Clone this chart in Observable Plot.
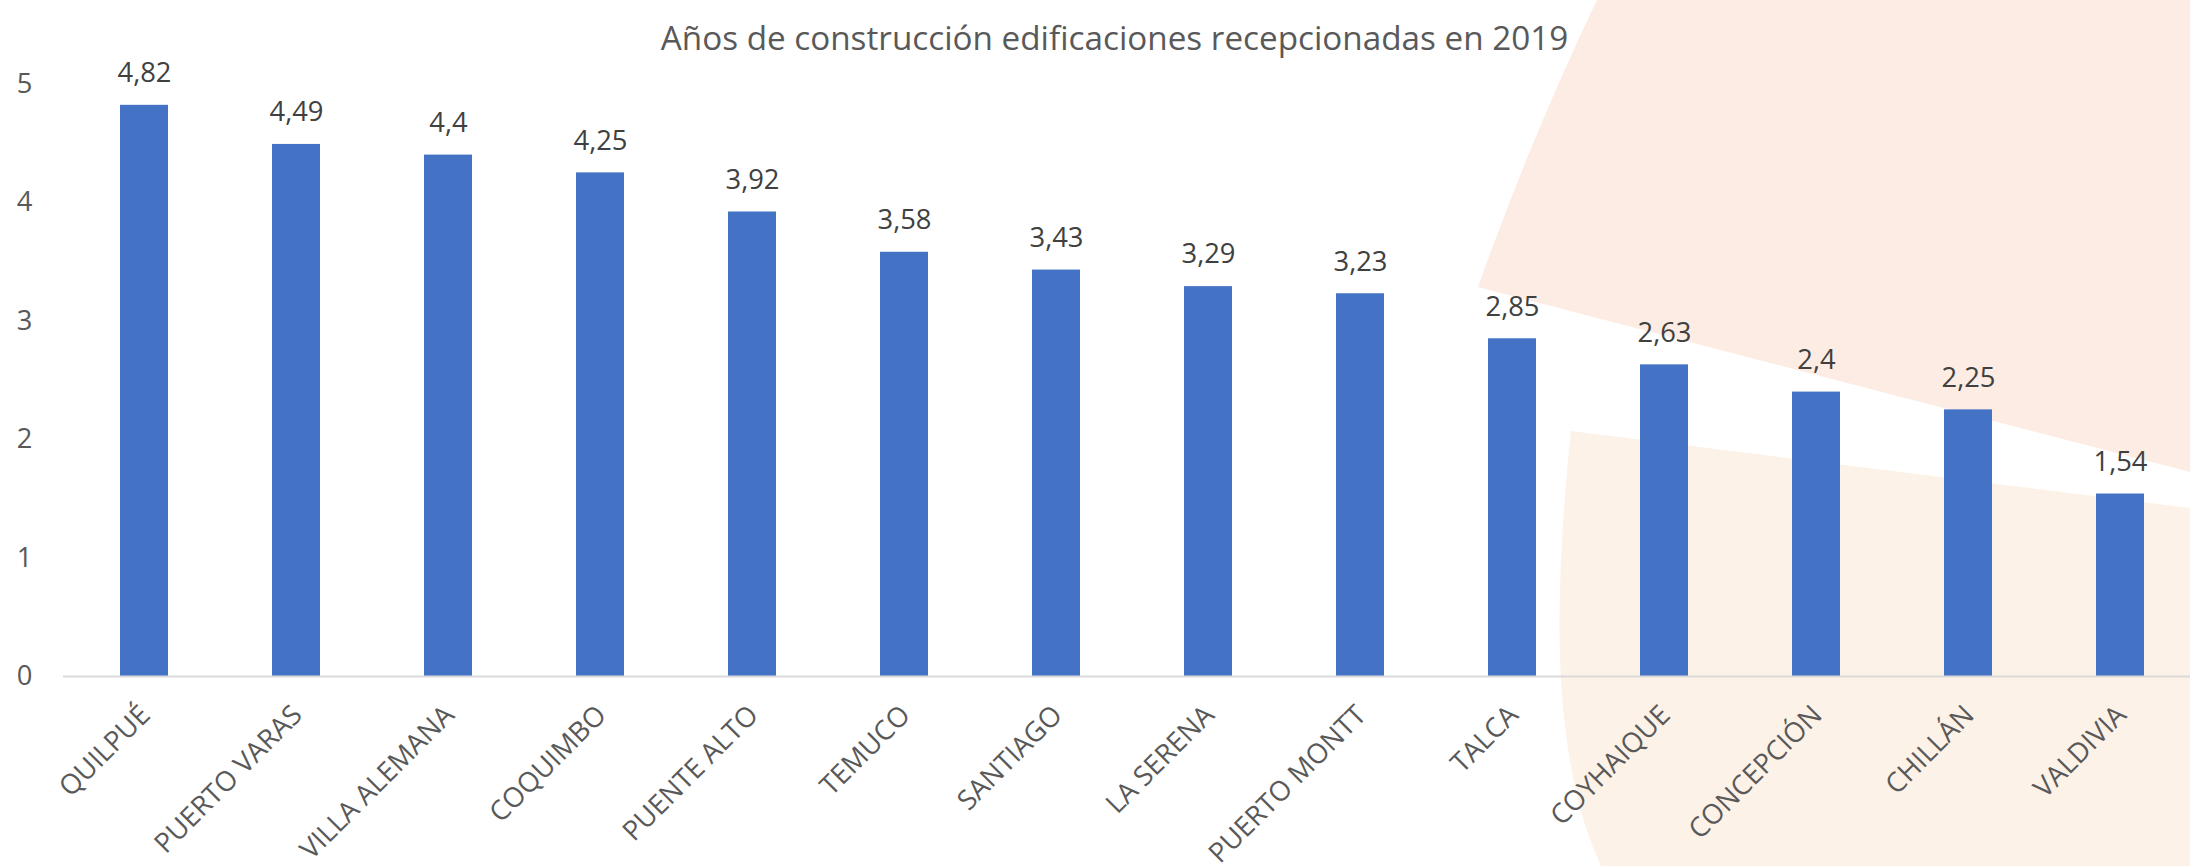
<!DOCTYPE html>
<html><head><meta charset="utf-8">
<script src="https://cdn.jsdelivr.net/npm/d3@7"></script>
<script src="https://cdn.jsdelivr.net/npm/@observablehq/plot@0.6"></script>
<style>html,body{margin:0;padding:0;background:#fff;overflow:hidden}#chart{width:2190px;height:866px}</style>
</head><body><div id="chart"></div>
<script>
const cities = ["QUILPUÉ","PUERTO VARAS","VILLA ALEMANA","COQUIMBO","PUENTE ALTO","TEMUCO","SANTIAGO","LA SERENA","PUERTO MONTT","TALCA","COYHAIQUE","CONCEPCIÓN","CHILLÁN","VALDIVIA"];
const years = [4.82,4.49,4.4,4.25,3.92,3.58,3.43,3.29,3.23,2.85,2.63,2.4,2.25,1.54];
const yTicks = [0,1,2,3,4,5];
const title = "Años de construcción edificaciones recepcionadas en 2019";

const FONT = '"Open Sans"';
function fit(text, target) {
  const c = document.createElement("canvas").getContext("2d");
  c.font = `100px ${FONT}`;
  return 100 * target / c.measureText(text).width;
}
const fsTitle = fit(title, 908);
const fsValue = fit("4,82", 54);
const fsCat = fit("PUERTO MONTT", 209);
const fmt = v => String(v).replace(".", ",");
const data = cities.map((c, i) => ({city: c, value: years[i]}));

function background() {
  const g = d3.create("svg:g");
  g.append("path")
    .attr("d", "M1597,0 Q1530,140 1478,287 L2190,472 L2190,0 Z")
    .attr("fill", "#FCECE3");
  g.append("path")
    .attr("d", "M1571,431 L2190,508 L2190,866 L1601,866 C1565,790 1557,680 1560,590 C1562,520 1567,470 1571,431 Z")
    .attr("fill", "#FDF2E8");
  return g.node();
}

const W = 2190, H = 866, ML = 63, MT = 83.5;
const plot = Plot.plot({
  width: W, height: H,
  marginLeft: ML, marginRight: 0, marginTop: MT, marginBottom: 190,
  style: {background: "transparent", fontFamily: FONT, overflow: "visible"},
  x: {type: "band", domain: cities, range: [62.59, 2202.1], paddingInner: 0.686, paddingOuter: 0.343, axis: null},
  y: {domain: [0, 5], axis: null},
  marks: [
    background,
    Plot.barY(data, {x: "city", y: "value", fill: "#4472C4"}),
    Plot.ruleY([0], {stroke: "#D9D9D9", strokeWidth: 2}),
    Plot.axisY({ticks: yTicks, tickSize: 0, tickPadding: 31, fontSize: fsValue, fill: "#595959", tickFormat: d => String(d), label: null}),
    Plot.text(data, {x: "city", y: "value", text: d => fmt(d.value), dy: -32, fontSize: fsValue, fill: "#404040"}),
    Plot.text(data, {x: "city", y: () => 0, text: "city", rotate: -45, textAnchor: "end", lineAnchor: "middle", dx: 1, dy: 34, fontSize: fsCat, fill: "#595959"}),
    Plot.text([title], {text: d => d, frameAnchor: "top", dx: 1114 - (ML + W) / 2, dy: (37 - 0.32 * fsTitle) - MT, fontSize: fsTitle, fill: "#595959"})
  ]
});
document.getElementById("chart").append(plot);
</script>
</body></html>
